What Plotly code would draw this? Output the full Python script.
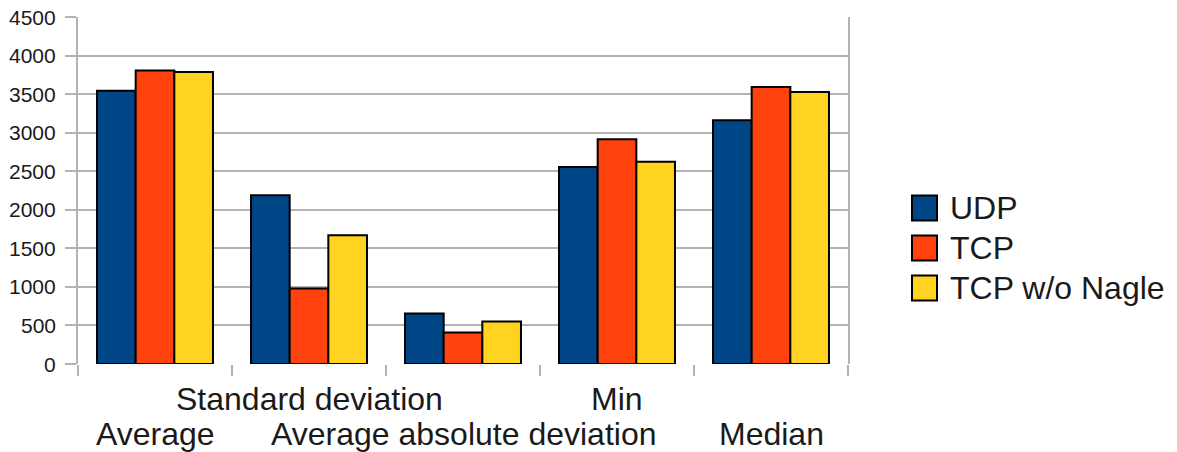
import plotly.graph_objects as go

# Statistics of measured latency per transport
categories = ["Average", "Standard deviation", "Average absolute deviation", "Min", "Median"]
udp = [3545, 2190, 655, 2556, 3162]
tcp = [3805, 980, 410, 2915, 3592]
tcp_no_nagle = [3788, 1670, 552, 2624, 3528]

series_names = ["UDP", "TCP", "TCP w/o Nagle"]
series_values = [udp, tcp, tcp_no_nagle]
series_colors = ["#004586", "#ff420e", "#ffd320"]

y_ticks = [0, 500, 1000, 1500, 2000, 2500, 3000, 3500, 4000, 4500]

W, H = 1177, 452
L, R, T, B = 78, 848, 17, 364  # plot area in pixels
FONT = "Liberation Sans, Arial, sans-serif"
TEXT = "#1a1a1a"
GRID = "#b3b3b3"


def px_x(p):
    return (p - L) / (R - L)


def px_y(p):
    return (B - p) / (B - T)


fig = go.Figure()
for name, vals, col in zip(series_names, series_values, series_colors):
    fig.add_trace(go.Bar(
        x=categories, y=vals, name=name,
        marker=dict(color=col, line=dict(color="black", width=2)),
        showlegend=False,
    ))

# staggered category labels: even indices on the lower row, odd on the upper row
annotations = []
for i, cat in enumerate(categories):
    row_y = 434 if i % 2 == 0 else 399
    annotations.append(dict(
        x=cat, xref="x", y=px_y(row_y), yref="paper",
        text=cat, showarrow=False, xanchor="center", yanchor="middle",
        font=dict(family=FONT, size=32, color=TEXT),
    ))

# y tick labels placed as text so their size and position are fixed
for v in y_ticks:
    annotations.append(dict(
        x=px_x(58), xref="paper", y=v, yref="y",
        text=str(v), showarrow=False, xanchor="right", yanchor="middle",
        font=dict(family=FONT, size=21, color=TEXT),
    ))

# legend drawn as swatches + labels
shapes = []
legend_rows = [208, 248, 288]
for name, col, cy in zip(series_names, series_colors, legend_rows):
    shapes.append(dict(
        type="rect", xref="paper", yref="paper",
        x0=px_x(912), x1=px_x(937), y0=px_y(cy + 12.5), y1=px_y(cy - 12.5),
        fillcolor=col, line=dict(color="black", width=2),
    ))
    annotations.append(dict(
        x=px_x(948), xref="paper", y=px_y(cy), yref="paper",
        text=name, showarrow=False, xanchor="left", yanchor="middle",
        font=dict(family=FONT, size=32, color=TEXT),
    ))

fig.update_layout(
    width=W, height=H,
    margin=dict(l=L, r=W - R, t=T, b=H - B, pad=0),
    paper_bgcolor="white", plot_bgcolor="white",
    barmode="group", bargap=0.247, bargroupgap=0,
    font=dict(family=FONT, color=TEXT),
    annotations=annotations, shapes=shapes,
    showlegend=False,
)
fig.update_xaxes(
    type="category", showticklabels=False,
    tickson="boundaries", ticks="outside", ticklen=11, tickwidth=2, tickcolor=GRID,
    showgrid=False, showline=False, zeroline=False,
)
fig.update_yaxes(
    range=[0, 4500], tickvals=y_ticks, showticklabels=False,
    ticks="outside", ticklen=11, tickwidth=2, tickcolor=GRID,
    showgrid=True, gridcolor=GRID, gridwidth=2,
    showline=True, linecolor=GRID, linewidth=2, mirror=True,
    zeroline=False,
)

fig.write_html("out.html")
